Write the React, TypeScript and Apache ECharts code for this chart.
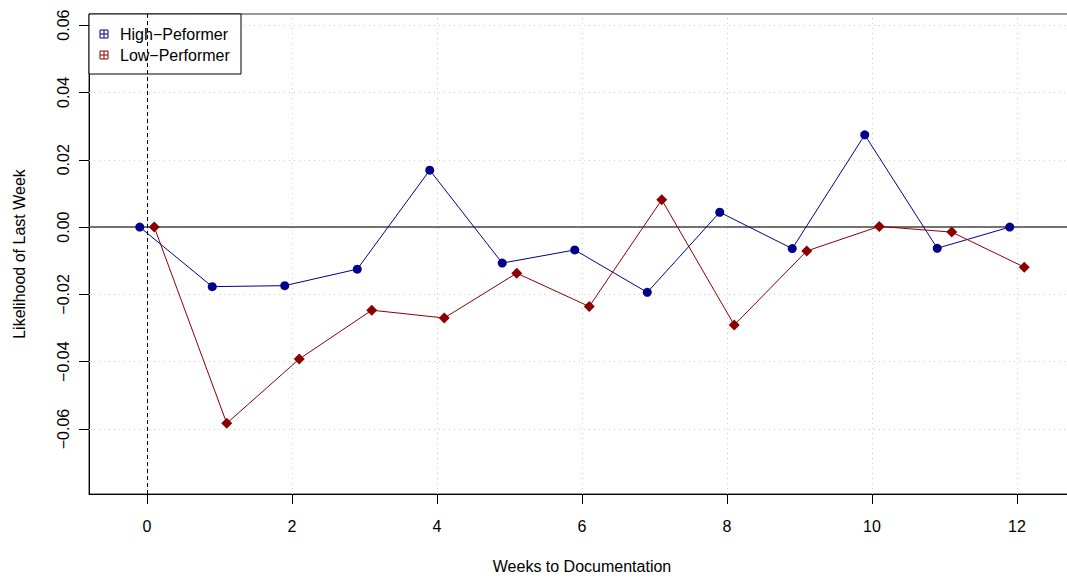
import React, { useEffect, useRef } from "react";
import * as echarts from "echarts";

// Weeks before documentation and the estimated likelihood for each group
const weeks = [0, 1, 2, 3, 4, 5, 6, 7, 8, 9, 10, 11, 12];
const highPerformer = [0, -0.0177, -0.0174, -0.0125, 0.0169, -0.0107, -0.0068, -0.0194, 0.0044, -0.0064, 0.0274, -0.0063, 0];
const lowPerformer = [0, -0.0583, -0.0392, -0.0247, -0.027, -0.0137, -0.0236, 0.0081, -0.0291, -0.0071, 0.0002, -0.0015, -0.0119];

// Small horizontal dodge so the two groups do not overlap
const dodge = 0.1;

const xTicks = [0, 2, 4, 6, 8, 10, 12];
const yTicks = [-0.06, -0.04, -0.02, 0, 0.02, 0.04, 0.06];

const seriesNames = ["High\u2212Peformer", "Low\u2212Performer"];
const seriesColors = ["#00008B", "#8B0000"];

const FONT = "Liberation Sans, Arial, Helvetica, sans-serif";

const fmtY = (v: number) => (v < 0 ? "\u2212" : "") + Math.abs(v).toFixed(2);

export default function App() {
  const ref = useRef<HTMLDivElement>(null);

  useEffect(() => {
    if (!ref.current) return;
    const chart = echarts.init(ref.current, null, { renderer: "svg" });

    const gridLeft = 89;
    const gridTop = 14;
    const gridRight = 1;
    const gridBottom = 87;

    // Legend symbol: square with a plus inside
    const legendSymbol = (cx: number, cy: number, color: string) => [
      { type: "rect", z: 30, shape: { x: cx - 4, y: cy - 4, width: 8, height: 8 }, style: { fill: "none", stroke: color, lineWidth: 1 } },
      { type: "line", z: 30, shape: { x1: cx - 4, y1: cy, x2: cx + 4, y2: cy }, style: { stroke: color, lineWidth: 1 } },
      { type: "line", z: 30, shape: { x1: cx, y1: cy - 4, x2: cx, y2: cy + 4 }, style: { stroke: color, lineWidth: 1 } },
    ];

    chart.setOption({
      animation: false,
      backgroundColor: "#ffffff",
      textStyle: { fontFamily: FONT },
      grid: {
        left: gridLeft,
        top: gridTop,
        right: gridRight,
        bottom: gridBottom,
        show: true,
        borderColor: "#333",
        borderWidth: 1,
        backgroundColor: "transparent",
      },
      xAxis: {
        type: "value",
        min: -0.8,
        max: 12.8,
        axisLine: { show: true, onZero: false, lineStyle: { color: "#000" } },
        splitLine: { show: false },
        axisTick: { show: true, length: 10, customValues: xTicks, lineStyle: { color: "#000" } },
        axisLabel: {
          customValues: xTicks,
          margin: 24,
          fontSize: 16,
          color: "#000",
          fontFamily: FONT,
        },
      },
      yAxis: {
        type: "value",
        min: -0.0793,
        max: 0.0633,
        axisLine: { show: true, onZero: false, lineStyle: { color: "#000" } },
        splitLine: { show: false },
        axisTick: { show: true, length: 10, customValues: yTicks, lineStyle: { color: "#000" } },
        axisLabel: {
          customValues: yTicks,
          rotate: 90,
          margin: 18,
          fontSize: 16,
          color: "#000",
          fontFamily: FONT,
          formatter: (v: number) => fmtY(v),
        },
      },
      series: [
        {
          // Dotted reference grid
          type: "line",
          data: [],
          z: 1,
          silent: true,
          markLine: {
            silent: true,
            z: 1,
            symbol: "none",
            label: { show: false },
            lineStyle: { color: "#cccccc", type: [1, 4], width: 1 },
            data: [
              ...yTicks.map((v) => ({ yAxis: v })),
              ...xTicks.map((v) => ({ xAxis: v })),
            ],
          },
        },
        {
          // Zero reference line, drawn beneath the data
          type: "line",
          data: [],
          z: 2,
          silent: true,
          markLine: {
            silent: true,
            z: 2,
            symbol: "none",
            label: { show: false },
            data: [{ yAxis: 0, lineStyle: { color: "#444", type: "solid", width: 1.5 } }],
          },
        },
        {
          name: seriesNames[0],
          type: "line",
          z: 10,
          data: weeks.map((w, i) => [w - dodge, highPerformer[i]]),
          symbol: "circle",
          symbolSize: 9,
          itemStyle: { color: seriesColors[0] },
          lineStyle: { color: seriesColors[0], width: 1 },
        },
        {
          name: seriesNames[1],
          type: "line",
          z: 10,
          data: weeks.map((w, i) => [w + dodge, lowPerformer[i]]),
          symbol: "diamond",
          symbolSize: 11,
          itemStyle: { color: seriesColors[1] },
          lineStyle: { color: seriesColors[1], width: 1 },
        },
        {
          // Documentation week marker, drawn over the legend box
          type: "line",
          data: [],
          z: 40,
          silent: true,
          markLine: {
            silent: true,
            z: 40,
            symbol: "none",
            label: { show: false },
            data: [{ xAxis: 0, lineStyle: { color: "#000", type: [4, 3], width: 1 } }],
          },
        },
      ],
      graphic: [
        {
          type: "rect",
          z: 20,
          shape: { x: gridLeft, y: gridTop, width: 152, height: 60 },
          style: { fill: "#ffffff", stroke: "#000", lineWidth: 1 },
        },
        ...legendSymbol(104, 34, seriesColors[0]),
        ...legendSymbol(104, 55, seriesColors[1]),
        {
          type: "text",
          z: 30,
          x: 120,
          y: 34,
          style: { text: seriesNames[0], font: `16px ${FONT}`, fill: "#000", textAlign: "left", textVerticalAlign: "middle" },
        },
        {
          type: "text",
          z: 30,
          x: 120,
          y: 55,
          style: { text: seriesNames[1], font: `16px ${FONT}`, fill: "#000", textAlign: "left", textVerticalAlign: "middle" },
        },
        {
          type: "text",
          x: 582,
          y: 566,
          style: { text: "Weeks to Documentation", font: `16px ${FONT}`, fill: "#000", textAlign: "center", textVerticalAlign: "middle" },
        },
        {
          type: "text",
          x: 19,
          y: 254,
          rotation: Math.PI / 2,
          style: { text: "Likelihood of Last Week", font: `16px ${FONT}`, fill: "#000", textAlign: "center", textVerticalAlign: "middle" },
        },
      ],
    });

    return () => chart.dispose();
  }, []);

  // The plot frame runs slightly past the right edge of the window
  return (
    <div
      ref={ref}
      style={{ position: "fixed", left: 0, top: 0, width: 1076, height: 581, background: "#fff" }}
    />
  );
}
